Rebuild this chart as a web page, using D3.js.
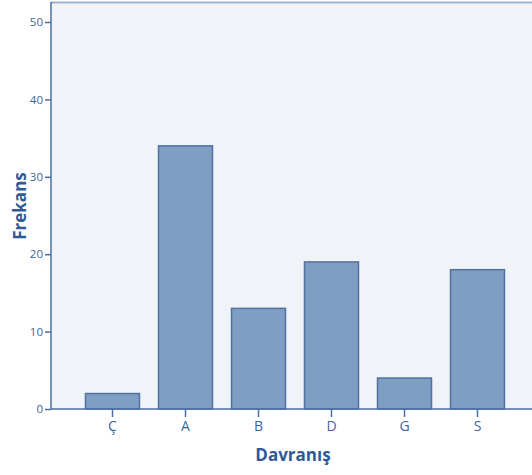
<!DOCTYPE html>
<html><head><meta charset="utf-8">
<script src="https://cdn.jsdelivr.net/npm/d3@7"></script>
<style>body{margin:0;background:#fff}svg{display:block}</style>
</head><body>
<script>
const categories = ["Ç","A","B","D","G","S"];
const values = [2,34,13,19,4,18];
const yTicks = [0,10,20,30,40,50];
const xTitle = "Davranış";
const yTitle = "Frekans";

const W=532,H=475;
const plot={left:51,top:2,right:533,bottom:409};
const svg=d3.select("body").append("svg").attr("width",W).attr("height",H);
const y=d3.scaleLinear().domain([0,50]).range([409,22]);
const x=d3.scaleBand().domain(categories).range([76,514]).paddingInner(0.2466).paddingOuter(0.1233);
const axisCol="#4b6fa3", textCol="#3d659c";

svg.append("rect").attr("x",plot.left).attr("y",plot.top).attr("width",plot.right-plot.left).attr("height",plot.bottom-plot.top)
  .attr("fill","#f0f4f8");
svg.append("line").attr("x1",plot.left).attr("x2",plot.right).attr("y1",plot.top+0.5).attr("y2",plot.top+0.5)
  .attr("stroke","#9fb3cd").attr("stroke-width",2);

svg.append("g").selectAll("rect").data(values).join("rect")
  .attr("x",(d,i)=>x(categories[i])+0.5).attr("width",x.bandwidth()-1)
  .attr("y",d=>y(d)).attr("height",d=>y(0)-y(d))
  .attr("fill","#7f9ec4").attr("stroke","#52729f").attr("stroke-width",1.5);

const ya=svg.append("g").attr("transform",`translate(${plot.left},0)`)
  .call(d3.axisLeft(y).tickValues(yTicks).tickSize(6).tickPadding(2).tickSizeOuter(0));
ya.select(".domain").remove();
ya.append("line").attr("x1",0).attr("x2",0).attr("y1",plot.top).attr("y2",plot.bottom).attr("stroke",axisCol).attr("stroke-width",1.5);
ya.selectAll(".tick line").attr("stroke",axisCol).attr("stroke-width",1.5);
ya.selectAll(".tick text").attr("fill",textCol).attr("font-family","'Open Sans',sans-serif").attr("font-size",11.5);

const xa=svg.append("g").attr("transform",`translate(0,${plot.bottom})`)
  .call(d3.axisBottom(x).tickSize(8).tickPadding(4).tickSizeOuter(0));
xa.select(".domain").remove();
xa.append("line").attr("x1",plot.left).attr("x2",plot.right).attr("y1",0).attr("y2",0).attr("stroke",axisCol).attr("stroke-width",1.5);
xa.selectAll(".tick line").attr("stroke",axisCol).attr("stroke-width",1.5);
xa.selectAll(".tick text").attr("fill",textCol).attr("font-family","'Open Sans',sans-serif").attr("font-size",14);

svg.append("text").attr("x",293).attr("y",461).attr("text-anchor","middle")
  .attr("fill","#2f5a96").attr("font-family","'Open Sans',sans-serif").attr("font-weight","bold").attr("font-size",17).text(xTitle);
svg.append("text").attr("transform","translate(26,206) rotate(-90)").attr("text-anchor","middle")
  .attr("fill","#2f5a96").attr("font-family","'Open Sans',sans-serif").attr("font-weight","bold").attr("font-size",17).text(yTitle);
</script>
</body></html>
